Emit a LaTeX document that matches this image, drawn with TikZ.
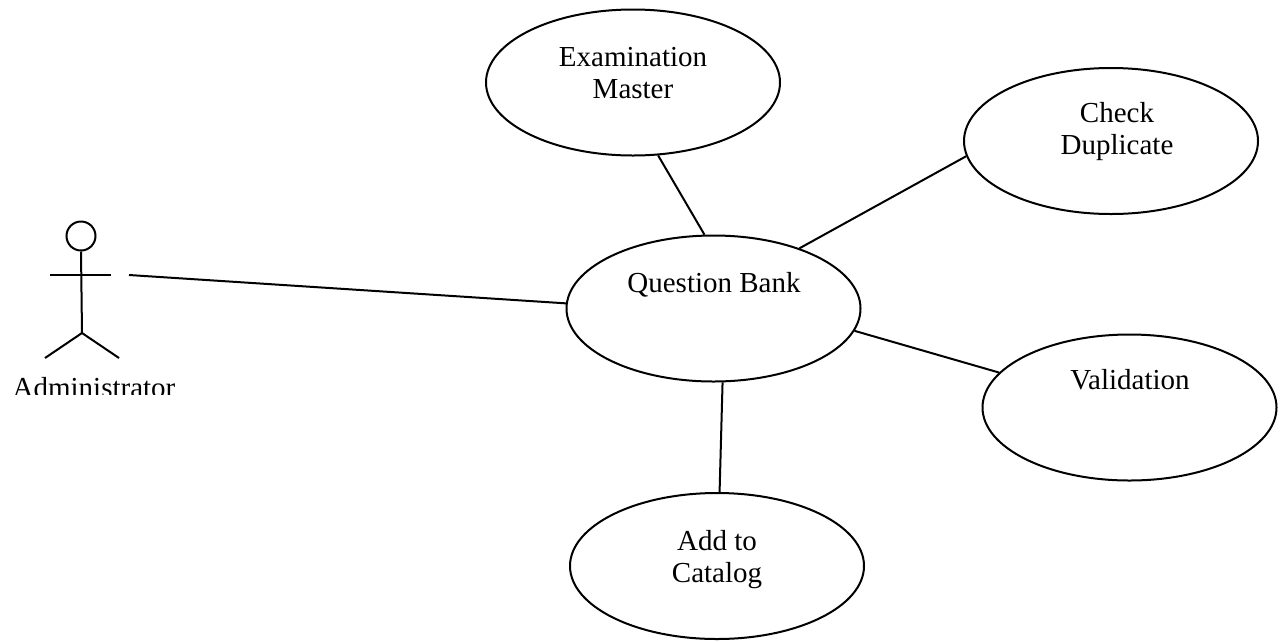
\documentclass[tikz,border=0pt]{standalone}
\usepackage{fontspec}
\setmainfont{Liberation Serif}
\usetikzlibrary{shapes.geometric}
\tikzset{
  usecase/.style={draw=black,line width=2pt,ellipse,inner sep=0pt,minimum width=294pt,minimum height=146pt},
  caption/.style={font=\fontsize{29}{32}\selectfont,align=center,inner sep=0pt,text=black},
  link/.style={draw=black,line width=2pt},
  actorline/.style={draw=black,line width=2pt}
}
\begin{document}
\begin{tikzpicture}[x=1pt,y=-1pt]
\useasboundingbox (0,0) rectangle (1282,641);
% use cases
\node[usecase] (exam) at (633,82.5) {};
\node[usecase] (check) at (1111,141) {};
\node[usecase] (bank) at (713.5,308.5) {};
\node[usecase] (valid) at (1129.5,407.5) {};
\node[usecase] (add) at (717,566) {};
\node[caption] (examt) at (633,73) {Examination\\Master};
\node[caption] (checkt) at (1117,132) {Check\\Duplicate};
\node[caption,anchor=base] (bankt) at (714,292) {Question Bank};
\node[caption,anchor=base] (validt) at (1130,389) {Validation};
\node[caption] (addt) at (717,559.5) {Add to\\Catalog};
% actor
\node[draw=black,line width=2pt,circle,inner sep=0pt,minimum size=29pt] (head) at (81,236) {};
\coordinate (hip) at (82,333);
\coordinate (armL) at (50,275);
\coordinate (armR) at (111,275);
\coordinate (legL) at (45,358);
\coordinate (legR) at (119,358);
\draw[actorline] (head.south) -- (hip);
\draw[actorline] (armL) -- (armR);
\draw[actorline] (legL) -- (hip) -- (legR);
\begin{scope}
\clip (0,365) rectangle (200,394);
\node[caption,anchor=base] (admin) at (94,397) {Administrator};
\end{scope}
% connectors
\coordinate (free) at (129,275);
\draw[link] (free) -- (bank.178.6);
\draw[link] (exam.-71) -- (bank.97);
\draw[link] (bank.35) -- (check.186.6);
\draw[link] (bank.-9.4) -- (valid.165);
\draw[link] (bank.-83.3) -- (add.88);
\end{tikzpicture}
\end{document}
